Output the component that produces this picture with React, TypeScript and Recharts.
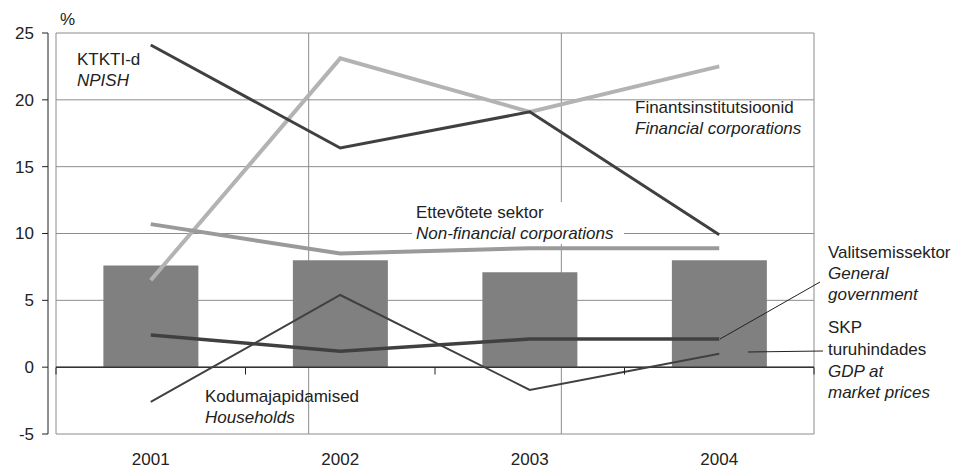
import { Bar, CartesianGrid, ComposedChart, Line, ReferenceLine, XAxis, YAxis } from "recharts";

const YEARS = ["2001", "2002", "2003", "2004"];
const GDP = [7.6, 8.0, 7.1, 8.0];
const NPISH = [24.1, 16.4, 19.1, 9.9];
const FINANCIAL = [6.5, 23.1, 19.1, 22.5];
const NON_FINANCIAL = [10.7, 8.5, 8.9, 8.9];
const GOVERNMENT = [2.4, 1.2, 2.1, 2.1];
const HOUSEHOLDS = [-2.6, 5.4, -1.7, 1.0];
const Y_TICKS = [-5, 0, 5, 10, 15, 20, 25];
const GRID_TICKS = [0, 1, 2, 3, 4];

const data = YEARS.map((year, i) => ({
  year,
  gdp: GDP[i],
  npish: NPISH[i],
  financial: FINANCIAL[i],
  nonFinancial: NON_FINANCIAL[i],
  government: GOVERNMENT[i],
  households: HOUSEHOLDS[i],
}));

const FONT = "'Liberation Sans', Arial, sans-serif";
const TEXT = "#222222";
const DARK = "#404040";

// plot area (page coords)
const PLOT_LEFT = 56;
const PLOT_RIGHT = 814;
const PLOT_TOP = 33;
const PLOT_BOTTOM = 434;
const ZERO_Y = 367.5;

function YTick({ y, payload }: any) {
  return (
    <g>
      <line x1={42} x2={48} y1={y} y2={y} stroke={TEXT} />
      <text x={34} y={y} dy="0.35em" textAnchor="end" fontSize={17} fill={TEXT} fontFamily={FONT}>
        {payload.value}
      </text>
    </g>
  );
}

function Overlay() {
  const band = (PLOT_RIGHT - PLOT_LEFT) / YEARS.length;
  const t = { fontSize: 17, fill: TEXT, fontFamily: FONT } as const;
  const it = { ...t, fontStyle: "italic" } as const;
  return (
    <svg
      width={960}
      height={470}
      style={{ position: "absolute", left: 0, top: 0, pointerEvents: "none" }}
    >
      {/* y axis line */}
      <line x1={48} x2={48} y1={PLOT_TOP} y2={PLOT_BOTTOM} stroke={TEXT} />
      {/* small ticks on the zero line */}
      {GRID_TICKS.map((i) => (
        <line
          key={i}
          x1={PLOT_LEFT + i * band}
          x2={PLOT_LEFT + i * band}
          y1={ZERO_Y}
          y2={ZERO_Y + 7}
          stroke={TEXT}
        />
      ))}
      <text x={60} y={25} {...t}>%</text>

      <text x={77} y={65} {...t}>KTKTI-d</text>
      <text x={77} y={86} {...it}>NPISH</text>

      <text x={635} y={113} {...t}>Finantsinstitutsioonid</text>
      <text x={635} y={134} {...it}>Financial corporations</text>

      <rect x={412} y={202} width={212} height={42} fill="#ffffff" />
      <text x={416} y={218} {...t}>Ettevõtete sektor</text>
      <text x={416} y={239} {...it}>Non-financial corporations</text>

      <line x1={720} y1={339} x2={820} y2={282} stroke={TEXT} strokeWidth={1} />
      <text x={828} y={258} {...t}>Valitsemissektor</text>
      <text x={828} y={279} {...it}>General</text>
      <text x={828} y={300} {...it}>government</text>

      <line x1={748} y1={352} x2={823} y2={351} stroke={TEXT} strokeWidth={1} />
      <text x={828} y={333} {...t}>SKP</text>
      <text x={828} y={355} {...t}>turuhindades</text>
      <text x={828} y={377} {...it}>GDP at</text>
      <text x={828} y={398} {...it}>market prices</text>

      <text x={205} y={402} {...t}>Kodumajapidamised</text>
      <text x={205} y={423} {...it}>Households</text>
    </svg>
  );
}

export default function App() {
  return (
    <div style={{ position: "absolute", left: 0, top: 0, width: 960, height: 470, background: "#fff" }}>
      <ComposedChart
        width={960}
        height={470}
        data={data}
        margin={{ top: PLOT_TOP, right: 960 - PLOT_RIGHT, bottom: 0, left: 0 }}
        barCategoryGap="25%"
      >
        <CartesianGrid stroke="#8c8c8c" xAxisId="grid" />
        <XAxis
          dataKey="year"
          axisLine={false}
          tickLine={false}
          tickSize={0}
          tickMargin={19}
          height={470 - PLOT_BOTTOM}
          tick={{ fontSize: 17, fill: TEXT, fontFamily: FONT }}
        />
        <XAxis xAxisId="grid" type="number" domain={[0, 4]} ticks={GRID_TICKS} hide />
        <YAxis
          domain={[-5, 25]}
          ticks={Y_TICKS}
          width={PLOT_LEFT}
          axisLine={false}
          tickLine={false}
          tick={<YTick />}
          interval={0}
        />
        <ReferenceLine y={0} stroke="#333333" strokeWidth={1.5} />
        <Bar dataKey="gdp" fill="#808080" isAnimationActive={false} />
        <Line dataKey="financial" stroke="#b3b3b3" strokeWidth={4} dot={false} isAnimationActive={false} />
        <Line dataKey="nonFinancial" stroke="#9a9a9a" strokeWidth={4} dot={false} isAnimationActive={false} />
        <Line dataKey="npish" stroke={DARK} strokeWidth={3} dot={false} isAnimationActive={false} />
        <Line dataKey="government" stroke={DARK} strokeWidth={3.5} dot={false} isAnimationActive={false} />
        <Line dataKey="households" stroke={DARK} strokeWidth={2} dot={false} isAnimationActive={false} />
      </ComposedChart>
      <Overlay />
    </div>
  );
}
